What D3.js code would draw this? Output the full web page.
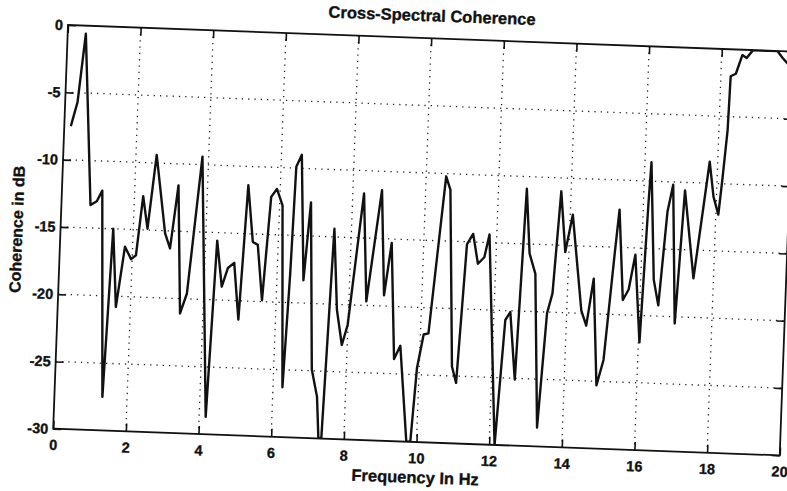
<!DOCTYPE html>
<html>
<head>
<meta charset="utf-8">
<script src="https://cdn.jsdelivr.net/npm/d3@7"></script>
<style>
  body { margin: 0; background: #fff; }
  svg { display: block; }
  text { font-family: "Liberation Sans", Arial, sans-serif; font-weight: bold; fill: #111; stroke: #111; stroke-width: 0.35px; }
</style>
</head>
<body>
<svg id="chart" width="787" height="491"></svg>
<script>
// values (frequency in Hz, coherence in dB)
let freq = [0.18, 0.34, 0.50, 0.80, 0.97, 1.11, 1.32, 1.45, 1.60, 1.79, 1.97, 2.10, 2.24, 2.39, 2.57,
  2.88, 3.03, 3.20, 3.37, 3.54, 3.83, 4.18, 4.32, 4.49, 4.64, 4.81, 4.98, 5.12, 5.30, 5.44,
  5.61, 5.76, 5.91, 6.08, 6.26, 6.36, 6.42, 6.56, 6.73, 6.86, 7.05, 7.22, 7.30, 7.38, 7.53,
  7.68, 7.85, 7.99, 8.31, 8.48, 8.80, 8.96, 9.12, 9.30, 9.46, 9.72, 9.83, 9.94, 10.09, 10.22,
  10.55, 10.68, 10.90, 11.03, 11.19, 11.35, 11.51, 11.68, 11.80, 12.15, 12.32, 12.45, 12.64, 12.78, 12.92,
  13.10, 13.30, 13.46, 13.59, 13.73, 13.90, 14.07, 14.40, 14.55, 14.71, 14.89, 15.06, 15.26, 15.35, 15.53,
  15.68, 15.83, 16.03, 16.14, 16.18, 16.36, 16.51, 16.67, 16.80, 16.98, 17.13, 17.45, 17.78, 17.92, 18.07,
  18.15, 18.24, 18.27, 18.41, 18.57, 18.69, 18.86, 19.53, 19.68, 19.82, 20.0];
let coherence = [-7.5, -5.7, -0.6, -13.3, -13.0, -12.2, -27.5, -15.0, -20.8, -16.3, -17.2, -16.9, -12.5, -14.9, -9.4,
  -15.2, -16.3, -11.6, -21.1, -19.6, -9.4, -28.7, -15.6, -19.0, -17.6, -17.2, -21.4, -11.4, -15.6, -15.8,
  -19.9, -12.2, -11.6, -12.8, -26.3, -17.8, -9.9, -9.0, -18.3, -12.5, -24.9, -26.9, -30, -30, -14.4,
  -20.4, -23.0, -21.5, -11.7, -19.7, -11.4, -19.2, -15.3, -23.9, -22.9, -30, -30, -24.5, -22.0, -21.9,
  -10.2, -11.2, -24.3, -25.5, -15.2, -14.4, -16.6, -16.1, -14.4, -30, -20.7, -20.1, -25.1, -10.9, -15.7,
  -17.2, -28.6, -20.1, -18.6, -11.0, -15.5, -12.7, -19.8, -20.9, -17.4, -25.3, -23.4, -15.5, -12.2, -18.9,
  -18.1, -15.5, -22.0, -11.5, -8.6, -17.3, -19.2, -12.2, -10.2, -20.5, -10.6, -17.1, -8.4, -11.0, -12.3,
  -9.5, -6.0, -2.0, -1.8, -0.4, -0.6, 0, 0, -0.5, -0.9, -1.2];

let xTicks = [0, 2, 4, 6, 8, 10, 12, 14, 16, 18, 20];
let yTicks = [-30, -25, -20, -15, -10, -5, 0];

let titleText = 'Cross-Spectral Coherence';
let xLabelText = 'Frequency In Hz';
let yLabelText = 'Coherence in dB';

let W = 727, H = 404;
let ink = '#111';

let svg = d3.select('#chart');

// the scanned page sits a little askew
let plot = svg.append('g')
  .attr('transform', 'translate(68,25) rotate(2.1)');

let x = d3.scaleLinear().domain([0, 20]).range([0, W]);
let y = d3.scaleLinear().domain([-30, 0]).range([H, 0]);

svg.append('defs').append('clipPath')
  .attr('id', 'clip')
  .append('rect')
  .attr('width', W).attr('height', H);

// dotted grid
let grid = plot.append('g').attr('class', 'grid');
grid.selectAll('.vgrid')
  .data(xTicks.slice(1, -1))
  .enter().append('line')
  .attr('class', 'vgrid')
  .attr('x1', d => x(d)).attr('x2', d => x(d))
  .attr('y1', 0).attr('y2', H);
grid.selectAll('.hgrid')
  .data(yTicks.slice(1, -1))
  .enter().append('line')
  .attr('class', 'hgrid')
  .attr('x1', 0).attr('x2', W)
  .attr('y1', d => y(d)).attr('y2', d => y(d));
grid.selectAll('line')
  .attr('stroke', '#222')
  .attr('stroke-width', 1.3)
  .attr('stroke-dasharray', '1.3,5');

// axes
let fmt = d => String(d);
let axBottom = plot.append('g')
  .attr('transform', 'translate(0,' + H + ')')
  .call(d3.axisBottom(x).tickValues(xTicks).tickSize(-8).tickPadding(11).tickFormat(fmt));
let axLeft = plot.append('g')
  .call(d3.axisLeft(y).tickValues(yTicks).tickSize(-8).tickPadding(5).tickFormat(fmt));
let axTop = plot.append('g')
  .call(d3.axisTop(x).tickValues(xTicks).tickSize(-8).tickFormat(''));
let axRight = plot.append('g')
  .attr('transform', 'translate(' + W + ',0)')
  .call(d3.axisRight(y).tickValues(yTicks).tickSize(-8).tickFormat(''));

[axBottom, axLeft, axTop, axRight].forEach(a => {
  a.select('.domain').remove();
  a.selectAll('line').attr('stroke', ink).attr('stroke-width', 1.6);
  a.selectAll('text')
    .attr('font-size', 14.5)
    .attr('font-family', '"Liberation Sans", Arial, sans-serif')
    .attr('font-weight', 'bold')
    .attr('fill', ink);
});

plot.append('rect')
  .attr('width', W).attr('height', H)
  .attr('fill', 'none')
  .attr('stroke', ink)
  .attr('stroke-width', 1.8);

// coherence trace
let line = d3.line()
  .x((d, i) => x(freq[i]))
  .y(d => y(d));

plot.append('path')
  .datum(coherence)
  .attr('clip-path', 'url(#clip)')
  .attr('fill', 'none')
  .attr('stroke', ink)
  .attr('stroke-width', 2.4)
  .attr('stroke-linejoin', 'round')
  .attr('d', line);

// labels
plot.append('text')
  .attr('x', W / 2)
  .attr('y', -17)
  .attr('text-anchor', 'middle')
  .attr('font-size', 16.5)
  .text(titleText);

plot.append('text')
  .attr('x', W / 2)
  .attr('y', H + 41)
  .attr('text-anchor', 'middle')
  .attr('font-size', 16.5)
  .text(xLabelText);

plot.append('text')
  .attr('transform', 'translate(-38,' + (H / 2 + 4) + ') rotate(-90)')
  .attr('text-anchor', 'middle')
  .attr('font-size', 16)
  .text(yLabelText);
</script>
</body>
</html>
